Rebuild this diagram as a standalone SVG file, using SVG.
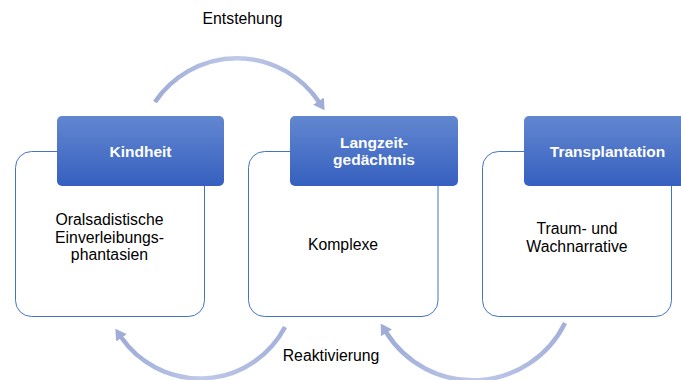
<svg xmlns="http://www.w3.org/2000/svg" width="681" height="380" viewBox="0 0 681 380">
<style>
.box{fill:#fff;stroke:#4472c4;stroke-width:1}
.hdr{fill:url(#hg)}
.ht{font-family:"Liberation Sans",Arial,sans-serif;font-size:15.5px;font-weight:bold;fill:#fff;text-anchor:middle}
.bt{font-family:"Liberation Sans",Arial,sans-serif;font-size:15.8px;fill:#000;text-anchor:middle}
.arc{fill:none;stroke:url(#ag);stroke-width:4.5}
</style>
<defs>
<linearGradient id="hg" x1="0" y1="0" x2="0" y2="1">
<stop offset="0" stop-color="#6287d0"/>
<stop offset="1" stop-color="#3660bf"/>
</linearGradient>
<linearGradient id="ag" x1="0" y1="0" x2="1" y2="0">
<stop offset="0" stop-color="#9eacd7"/>
<stop offset="0.5" stop-color="#bfc9e8"/>
<stop offset="1" stop-color="#a3b0d9"/>
</linearGradient>
<marker id="ah" markerUnits="userSpaceOnUse" viewBox="0 0 11 13" refX="1" refY="6.5" markerWidth="11" markerHeight="13" orient="auto">
<path d="M0,0 L11,6.5 L0,13 z" fill="#a0add8"/>
</marker>
</defs>
<g id="connectors">
<path class="arc" d="M155,102 A98.7,98.7 0 0 1 319,102" marker-end="url(#ah)"/>
<path class="arc" d="M285,327 A96,96 0 0 1 121,337" marker-end="url(#ah)"/>
<path class="arc" d="M565,323 A102.5,102.5 0 0 1 386,332" marker-end="url(#ah)"/>
</g>
<g id="kindheit">
<rect class="box" x="15.5" y="151.5" width="189" height="165" rx="16"/>
<rect class="hdr" x="57" y="116" width="167" height="70" rx="5"/>
<text class="ht" x="140.5" y="157">Kindheit</text>
<text class="bt" x="109.5" y="225">Oralsadistische</text>
<text class="bt" x="109.5" y="242.5">Einverleibungs-</text>
<text class="bt" x="109.5" y="260">phantasien</text>
</g>
<g id="langzeitgedaechtnis">
<rect class="box" x="248.5" y="151.5" width="189.5" height="165" rx="16"/>
<rect class="hdr" x="290" y="116" width="168" height="70" rx="5"/>
<text class="ht" x="374" y="148">Langzeit-</text>
<text class="ht" x="374" y="165">gedächtnis</text>
<text class="bt" x="343" y="250">Komplexe</text>
</g>
<g id="transplantation">
<rect class="box" x="482.5" y="151.5" width="189" height="165" rx="16"/>
<rect class="hdr" x="524" y="116" width="168" height="70" rx="5"/>
<text class="ht" x="607.5" y="157">Transplantation</text>
<text class="bt" x="577" y="234">Traum- und</text>
<text class="bt" x="577" y="251.5">Wachnarrative</text>
</g>
<g id="labels">
<text class="bt" x="242.5" y="24">Entstehung</text>
<text class="bt" x="331" y="361">Reaktivierung</text>
</g>
</svg>
